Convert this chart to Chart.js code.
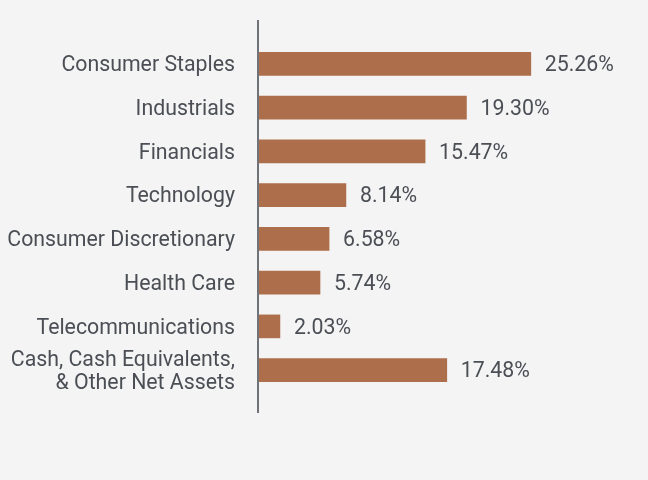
<!DOCTYPE html>
<html>
<head>
<meta charset="utf-8">
<script src="https://cdn.jsdelivr.net/npm/chart.js@4/dist/chart.umd.min.js"></script>
<style>
  html, body { margin: 0; padding: 0; background: #f4f4f4; }
  #wrap { width: 648px; height: 480px; }
</style>
</head>
<body>
<div id="wrap"><canvas id="sector-chart"></canvas></div>
<script>
const SECTORS = [
    'Consumer Staples',
    'Industrials',
    'Financials',
    'Technology',
    'Consumer Discretionary',
    'Health Care',
    'Telecommunications',
    ['Cash, Cash Equivalents,', '& Other Net Assets']
];
const WEIGHTS = [25.26, 19.30, 15.47, 8.14, 6.58, 5.74, 2.03, 17.48];

const TEXT_COLOR = '#4b4f55';
const BAR_COLOR = '#ad6e4b';
const AXIS_COLOR = '#6f7276';

// Vertical axis line that sticks out a bit above and below the bars
const axisLinePlugin = {
    id: 'axisLine',
    afterDatasetsDraw(chart) {
        const { ctx, chartArea } = chart;
        ctx.save();
        ctx.strokeStyle = AXIS_COLOR;
        ctx.lineWidth = 2;
        ctx.beginPath();
        ctx.moveTo(chartArea.left, chartArea.top - 22);
        ctx.lineTo(chartArea.left, chartArea.bottom + 21);
        ctx.stroke();
        ctx.restore();
    }
};

// Percentage labels at the end of each bar
const valueLabelPlugin = {
    id: 'valueLabels',
    afterDatasetsDraw(chart) {
        const { ctx } = chart;
        const meta = chart.getDatasetMeta(0);
        ctx.save();
        ctx.font = '21.3px Roboto';
        ctx.fillStyle = TEXT_COLOR;
        ctx.textAlign = 'left';
        ctx.textBaseline = 'middle';
        meta.data.forEach((bar, i) => {
            ctx.fillText(WEIGHTS[i].toFixed(2) + '%', bar.x + 14, bar.y + 2);
        });
        ctx.restore();
    }
};

const ctx = document.getElementById('sector-chart').getContext('2d');

new Chart(ctx, {
    type: 'bar',
    data: {
        labels: SECTORS,
        datasets: [{
            data: WEIGHTS,
            backgroundColor: BAR_COLOR,
            borderWidth: 0,
            barThickness: 23
        }]
    },
    options: {
        indexAxis: 'y',
        responsive: true,
        maintainAspectRatio: false,
        animation: false,
        layout: {
            padding: { left: 0, right: 12, top: 42, bottom: 88 }
        },
        scales: {
            x: {
                display: false,
                min: 0,
                max: 35
            },
            y: {
                grid: { display: false, drawTicks: false },
                border: { display: false },
                afterFit(scale) {
                    scale.width = 258;
                    scale.paddingTop = 0;
                    scale.paddingBottom = 0;
                },
                ticks: {
                    autoSkip: false,
                    padding: 23,
                    labelOffset: 2,
                    color: TEXT_COLOR,
                    font: { family: 'Roboto', size: 21.3, lineHeight: 1.04 }
                }
            }
        },
        plugins: {
            legend: { display: false },
            tooltip: { enabled: false }
        }
    },
    plugins: [axisLinePlugin, valueLabelPlugin]
});
</script>
</body>
</html>
